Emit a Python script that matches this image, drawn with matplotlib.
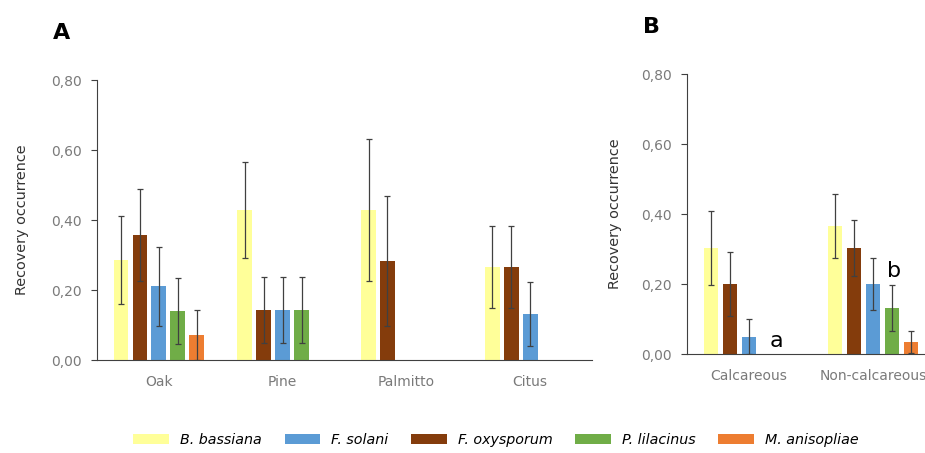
import matplotlib
matplotlib.use("Agg")
import matplotlib.pyplot as plt
import numpy as np

# species, in the order the bars are drawn inside each group
species = ["B. bassiana", "F. oxysporum", "F. solani", "P. lilacinus", "M. anisopliae"]
colors = ["#FFFF99", "#843C0C", "#5B9BD5", "#70AD47", "#ED7D31"]
legend_order = [0, 2, 1, 3, 4]  # legend lists F. solani before F. oxysporum

# panel A: vegetation types
veg = ["Oak", "Pine", "Palmitto", "Citus"]
veg_mean = [
    [0.286, 0.429, 0.429, 0.266],      # B. bassiana
    [0.357, 0.143, 0.283, 0.266],      # F. oxysporum
    [0.211, 0.143, np.nan, 0.131],     # F. solani
    [0.140, 0.143, np.nan, np.nan],    # P. lilacinus
    [0.071, np.nan, np.nan, np.nan],   # M. anisopliae
]
veg_err = [
    [0.125, 0.138, 0.202, 0.118],
    [0.132, 0.095, 0.186, 0.117],
    [0.113, 0.095, np.nan, 0.092],
    [0.095, 0.095, np.nan, np.nan],
    [0.072, np.nan, np.nan, np.nan],
]

# panel B: soil types
soil = ["Calcareous", "Non-calcareous"]
soil_mean = [
    [0.303, 0.366],
    [0.200, 0.303],
    [0.049, 0.200],
    [np.nan, 0.131],
    [np.nan, 0.034],
]
soil_err = [
    [0.105, 0.091],
    [0.092, 0.081],
    [0.050, 0.074],
    [np.nan, 0.065],
    [np.nan, 0.032],
]
yticks = [0.0, 0.2, 0.4, 0.6, 0.8]
ytick_labels = ["0,00", "0,20", "0,40", "0,60", "0,80"]

W, H = 925, 453
fig = plt.figure(figsize=(W / 100, H / 100), dpi=100)

slot = 0.153
bw = 0.12
grey = "#7a7a7a"


def draw_panel(ax, cats, means, errs):
    x = np.arange(len(cats)) + 0.5
    handles = []
    for k in range(len(species)):
        xs = x + (k - 2) * slot
        b = ax.bar(xs, means[k], bw, color=colors[k], zorder=2, label=species[k])
        ax.errorbar(xs, means[k], yerr=errs[k], fmt="none", ecolor="#404040",
                    elinewidth=0.9, capsize=2.2, capthick=0.9, zorder=3)
        handles.append(b)
    ax.set_xlim(0, len(cats))
    ax.set_ylim(0, 0.8)
    ax.set_yticks(yticks)
    ax.set_yticklabels(ytick_labels)
    ax.set_xticks(x)
    ax.set_xticklabels(cats)
    for s in ["top", "right"]:
        ax.spines[s].set_visible(False)
    ax.spines["left"].set_color("#404040")
    ax.spines["bottom"].set_color("#404040")
    ax.tick_params(axis="y", length=4.5, width=0.8, color="#404040", pad=6.5,
                   labelsize=10, labelcolor=grey)
    ax.tick_params(axis="x", length=0, pad=11, labelsize=10, labelcolor=grey)
    ax.set_ylabel("Recovery occurrence", fontsize=10.4, color="#333333")
    return handles


axA = fig.add_axes([97 / W, (H - 360) / H, 495 / W, 280 / H])
handles = draw_panel(axA, veg, veg_mean, veg_err)
axA.yaxis.set_label_coords(-0.137, 0.5)

axB = fig.add_axes([687 / W, (H - 354) / H, 248 / W, 280 / H])
draw_panel(axB, soil, soil_mean, soil_err)
axB.yaxis.set_label_coords(-0.262, 0.5)
axB.text(0.718, 0.02, "a", fontsize=16, ha="center", va="baseline")
axB.text(1.67, 0.22, "b", fontsize=16, ha="center", va="baseline")

fig.text(53 / W, 1 - 33 / H, "A", fontsize=16, fontweight="bold", va="center")
fig.text(643 / W, 1 - 27 / H, "B", fontsize=16, fontweight="bold", va="center")

leg = fig.legend([handles[i] for i in legend_order], [species[i] for i in legend_order],
                 loc="center", bbox_to_anchor=(496 / W, 1 - 440 / H), ncol=5,
                 frameon=False, handlelength=2.5, handleheight=0.7,
                 columnspacing=1.6, handletextpad=0.75,
                 prop={"style": "italic", "size": 10.3})

fig.savefig("out.png", dpi=100)
